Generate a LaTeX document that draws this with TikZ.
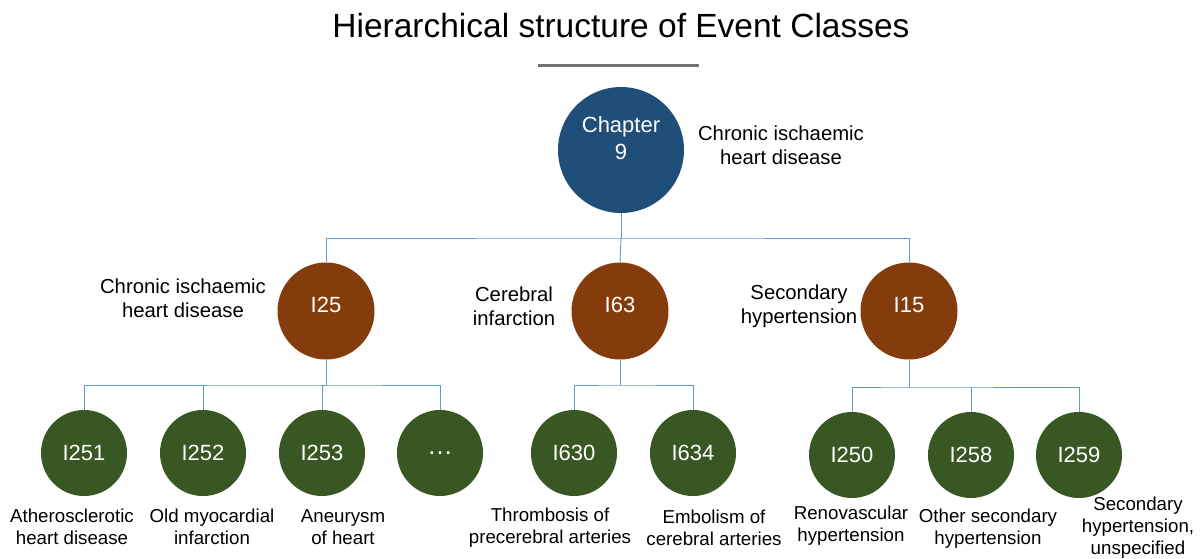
\documentclass[tikz,border=0pt]{standalone}
\usepackage{fontspec}
\setmainfont{Liberation Sans}
\definecolor{topblue}{HTML}{1F4E79}
\definecolor{midbrown}{HTML}{843C0C}
\definecolor{leafgreen}{HTML}{385723}
\definecolor{linkblue}{HTML}{5B9BD5}
\definecolor{bargray}{HTML}{767171}
\begin{document}
\begin{tikzpicture}[x=1pt,y=-1pt,
  topnode/.style={circle,fill=topblue,draw=none,minimum size=126pt,inner sep=0pt,text=white,align=center,font=\fontsize{22}{27}\selectfont},
  midnode/.style={circle,fill=midbrown,draw=none,minimum size=97pt,inner sep=0pt,text=white,font=\fontsize{22}{26}\selectfont},
  leafnode/.style={circle,fill=leafgreen,draw=none,minimum size=86pt,inner sep=0pt,text=white,font=\fontsize{22}{26}\selectfont},
  lbl/.style={align=center,inner sep=0pt,font=\fontsize{20.3}{24}\selectfont},
  leaflbl/.style={align=center,inner sep=0pt,font=\fontsize{18.7}{22}\selectfont},
  link/.style={draw=linkblue,line width=0.9pt}]
\useasboundingbox (0,0) rectangle (1200,558);
% title
\node[inner sep=0pt,font=\fontsize{33.5}{38}\selectfont] (title) at (621,26) {Hierarchical structure of Event Classes};
\draw[bargray,line width=3pt] (538,65) -- (699,65);
% nodes
\node[topnode,text depth=24pt] (ch) at (621,150) {Chapter\\9};
\node[midnode,text depth=12pt] (i25) at (326,311) {I25};
\node[midnode,text depth=12pt] (i63) at (620,311) {I63};
\node[midnode,text depth=12pt] (i15) at (909,311) {I15};
\node[leafnode] (i251) at (84,453) {I251};
\node[leafnode] (i252) at (203,453) {I252};
\node[leafnode] (i253) at (322,453) {I253};
\node[leafnode,font=\fontsize{26}{26}\selectfont] (idots) at (440,453) {\dots};
\node[leafnode] (i630) at (574,453) {I630};
\node[leafnode] (i634) at (693,453) {I634};
\node[leafnode] (i250) at (852,455) {I250};
\node[leafnode] (i258) at (971,455) {I258};
\node[leafnode] (i259) at (1079,455) {I259};
% labels
\node[lbl] (lch) at (781,145) {Chronic ischaemic\\heart disease};
\node[lbl] (l25) at (183,298) {Chronic ischaemic\\heart disease};
\node[lbl] (l63) at (514,306) {Cerebral\\infarction};
\node[lbl] (l15) at (799,306) {Secondary\\hypertension};
\node[leaflbl] (l251) at (72,527) {Atherosclerotic\\heart disease};
\node[leaflbl] (l252) at (212,527) {Old myocardial\\infarction};
\node[leaflbl] (l253) at (343,527) {Aneurysm\\of heart};
\node[leaflbl] (l630) at (550,528) {Thrombosis of\\precerebral arteries};
\node[leaflbl] (l634) at (714,528) {Embolism of\\cerebral arteries};
\node[leaflbl] (l250) at (851,526) {Renovascular\\hypertension};
\node[leaflbl] (l258) at (988,529) {Other secondary\\hypertension};
\node[leaflbl] (l259) at (1138,528) {Secondary\\hypertension,\\unspecified};
% connectors
\coordinate (b0) at (621,238);
\draw[link] (ch.south) -- (b0);
\draw[link] (i25.north) |- (b0) -| (i15.north);
\draw[link] (b0) -- (i63.north);
\coordinate (b1) at (326,385);
\draw[link] (i25.south) -- (b1);
\draw[link] (i251.north) |- (b1) -| (idots.north);
\draw[link] (i252.north) -- (i252.north |- b1);
\draw[link] (b1) -- (i253.north |- b1) -- (i253.north);
\coordinate (b2) at (620,385);
\draw[link] (i63.south) -- (b2);
\draw[link] (i630.north) |- (b2) -| (i634.north);
\coordinate (b3) at (909,387);
\draw[link] (i15.south) -- (b3);
\draw[link] (i250.north) |- (b3) -| (i259.north);
\draw[link] (i258.north) -- (i258.north |- b3);
\end{tikzpicture}
\end{document}
